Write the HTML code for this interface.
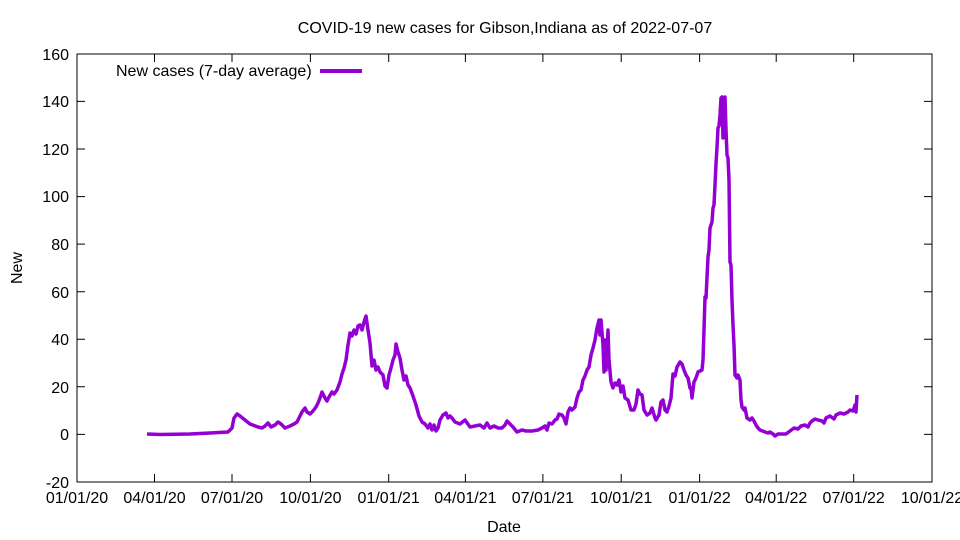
<!DOCTYPE html>
<html><head><meta charset="utf-8"><style>body{margin:0;background:#fff}svg{display:block;font-family:"Liberation Sans",sans-serif}</style></head><body>
<svg width="960" height="540" viewBox="0 0 960 540">
<rect width="960" height="540" fill="#fff"/>
<text x="505" y="33" font-size="16" text-anchor="middle">COVID-19 new cases for Gibson,Indiana as of 2022-07-07</text>
<rect x="77" y="54" width="855" height="428" fill="none" stroke="#000" stroke-width="1"/>
<g stroke="#000" stroke-width="1">
<path d="M77 482h8M932 482h-8M77 434.4h8M932 434.4h-8M77 386.8h8M932 386.8h-8M77 339.3h8M932 339.3h-8M77 291.7h8M932 291.7h-8M77 244.1h8M932 244.1h-8M77 196.6h8M932 196.6h-8M77 149h8M932 149h-8M77 101.4h8M932 101.4h-8M77 54h8M932 54h-8"/>
<path d="M77 482v-8M77 54v8M154.5 482v-8M154.5 54v8M232 482v-8M232 54v8M310.4 482v-8M310.4 54v8M388.7 482v-8M388.7 54v8M465.4 482v-8M465.4 54v8M542.9 482v-8M542.9 54v8M621.2 482v-8M621.2 54v8M699.6 482v-8M699.6 54v8M776.2 482v-8M776.2 54v8M853.7 482v-8M853.7 54v8M932 482v-8M932 54v8"/>
</g>
<g font-size="16" text-anchor="end">
<text x="69" y="488">-20</text><text x="69" y="440">0</text><text x="69" y="393">20</text><text x="69" y="345">40</text><text x="69" y="298">60</text><text x="69" y="250">80</text><text x="69" y="202">100</text><text x="69" y="155">120</text><text x="69" y="107">140</text><text x="69" y="60">160</text>
</g>
<g font-size="16" text-anchor="middle">
<text x="77" y="503">01/01/20</text><text x="154.5" y="503">04/01/20</text><text x="232" y="503">07/01/20</text><text x="310.4" y="503">10/01/20</text><text x="388.7" y="503">01/01/21</text><text x="465.4" y="503">04/01/21</text><text x="542.9" y="503">07/01/21</text><text x="621.2" y="503">10/01/21</text><text x="699.6" y="503">01/01/22</text><text x="776.2" y="503">04/01/22</text><text x="853.7" y="503">07/01/22</text><text x="932" y="503">10/01/22</text>
<text x="504" y="532">Date</text>
<text x="22" y="268" transform="rotate(-90 22 268)">New</text>
</g>
<text x="116" y="76" font-size="16">New cases (7-day average)</text>
<line x1="320" y1="71" x2="362" y2="71" stroke="#9400d3" stroke-width="4"/>
<polyline fill="none" stroke="#9400d3" stroke-width="3.5" stroke-linejoin="round" points="147,434 160,434.5 190,434 210,433 228,432 232,428 234,418 237,414 240,416 245,420 250,424 258,427 262,428 265,426 268,423 271,427 275,425 278,422 281,424 285,428 290,426 294,424 297,422 299,418 302,412 305,408 307,412 310,414 313,411 316,407 318,403 320,398 322,392 325,398 327,401 329,397 332,392 334,394 337,390 340,382 342,374 344,368 346,360 348,345 350,333 352,336 354,330 356,334 358,326 360,325 362,330 364,322 366,316 368,330 370,343 372,366 374,360 376,370 378,367 380,372 383,375 385,386 387,388 389,375 391,368 393,360 395,355 396,344 398,352 400,358 402,370 404,380 406,376 408,385 410,388 413,396 416,405 419,416 422,422 425,424 428,428 430,424 432,430 434,425 436,431 438,428 440,420 443,415 446,413 448,418 450,416 452,418 455,422 460,424 465,420 470,427 475,426 480,425 484,428 487,423 490,428 494,426 498,428 502,428 505,425 507,421 510,424 513,427 517,432 522,430 526,431 532,431 538,430 542,428 545,426 547,430 549,423 552,424 555,420 557,419 559,414 562,415 564,418 566,424 568,412 570,408 572,410 575,407 577,398 579,392 581,390 583,380 585,376 587,370 589,367 591,355 593,348 595,340 597,328 599,320 600,335 601,320 603,345 604,372 605,340 606,370 607,355 608,330 609,360 611,382 613,388 615,383 617,385 619,380 621,392 623,386 625,398 628,400 631,410 634,410 636,404 638,390 640,394 642,395 644,410 647,415 650,413 652,408 655,418 656,420 659,415 661,402 663,400 665,410 667,412 669,406 671,398 673,374 675,376 677,367 680,362 682,364 684,370 686,375 688,378 690,388 691,388 692,398 694,382 696,378 698,372 700,371 702,370 703,360 704,330 705,297 706,298 708,257 709,250 710,228 712,222 713,208 714,205 716,164 717,147 718,128 719,126 720,115 721,98 722,97 723,138 724,110 725,97 726,130 727,155 728,158 729,180 730,262 731,265 732,300 733,325 734,345 735,375 737,378 738,375 740,380 741,400 742,407 744,410 745,408 747,418 750,420 752,418 754,421 756,425 758,428 760,430 765,432 768,433 770,432 773,434 775,436 778,434 782,434 786,434 790,431 794,428 798,429 801,426 805,425 808,427 810,423 812,421 815,419 818,420 822,421 824,423 826,418 830,416 834,419 836,415 840,413 844,414 848,412 850,410 853,411 855,405 856,412 857,395"/>
</svg>
</body></html>
